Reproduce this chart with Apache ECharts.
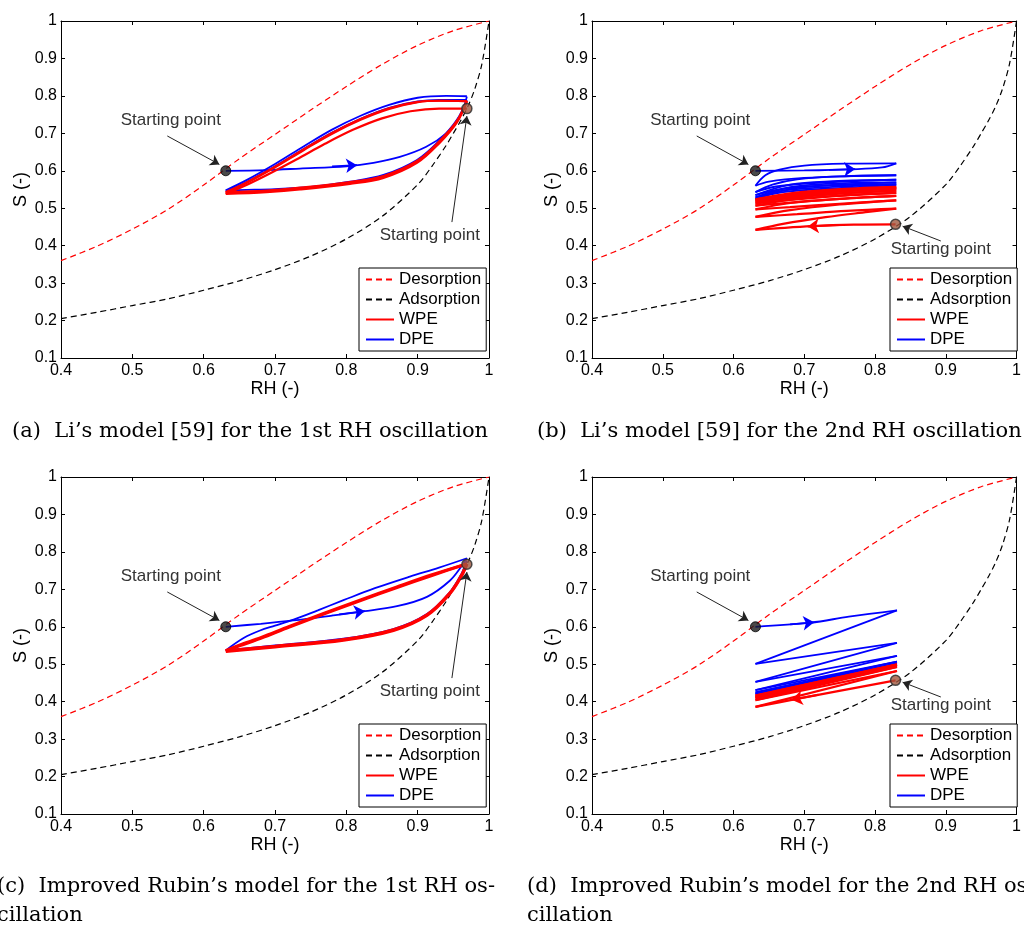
<!DOCTYPE html>
<html><head><meta charset="utf-8"><title>Hysteresis</title>
<script src="https://cdn.jsdelivr.net/npm/echarts@6.0.0/dist/echarts.min.js"></script>
<style>html,body{margin:0;padding:0;background:#fff;overflow:hidden}#chart{width:1024px;height:929px}</style>
</head><body><div id="chart"></div>
<script>
// ---------------- tick labels ----------------
const xTickLabels = ['0.4','0.5','0.6','0.7','0.8','0.9','1'];
const yTickLabels = ['0.1','0.2','0.3','0.4','0.5','0.6','0.7','0.8','0.9','1'];

// ---------------- main isotherms (shared by all panels) ----------------
const desorptionRH = [0.40,0.45,0.50,0.55,0.60,0.65,0.70,0.75,0.80,0.85,0.90,0.95,1.00];
const desorptionS  = [0.360,0.398,0.444,0.497,0.562,0.632,0.697,0.762,0.825,0.884,0.935,0.974,1.000];
const adsorptionRH = [0.40,0.45,0.50,0.55,0.60,0.65,0.70,0.75,0.80,0.85,0.90,0.92,0.94,0.95,0.96,0.97,0.98,0.99,1.00];
const adsorptionS  = [0.205,0.222,0.240,0.258,0.281,0.306,0.336,0.372,0.418,0.478,0.563,0.612,0.668,0.700,0.733,0.770,0.818,0.885,1.000];

// ---------------- (a) Li's model, 1st oscillation ----------------
const aDPE = [
 [[0.631,0.600],[0.688,0.602],[0.735,0.606],[0.800,0.612],[0.838,0.621],[0.875,0.637],[0.912,0.664],[0.940,0.700],[0.959,0.744],[0.969,0.798]],
 [[0.969,0.799],[0.940,0.800],[0.900,0.795],[0.860,0.776],[0.820,0.747],[0.780,0.710],[0.740,0.665],[0.700,0.618],[0.660,0.575],[0.631,0.548]],
 [[0.631,0.548],[0.660,0.549],[0.700,0.551],[0.750,0.557],[0.805,0.571],[0.852,0.589],[0.899,0.629],[0.931,0.682],[0.955,0.736],[0.969,0.789]],
 [[0.969,0.789],[0.930,0.789],[0.900,0.785],[0.860,0.768],[0.820,0.739],[0.780,0.702],[0.740,0.658],[0.700,0.612],[0.660,0.570],[0.631,0.545]]
];
const aWPE = [
 [[0.969,0.766],[0.930,0.766],[0.890,0.759],[0.850,0.740],[0.810,0.710],[0.770,0.672],[0.730,0.630],[0.690,0.590],[0.660,0.562],[0.631,0.538]],
 [[0.631,0.538],[0.688,0.543],[0.735,0.550],[0.805,0.565],[0.852,0.581],[0.899,0.621],[0.931,0.675],[0.955,0.729],[0.969,0.786]],
 [[0.969,0.786],[0.930,0.787],[0.900,0.783],[0.860,0.765],[0.820,0.736],[0.780,0.699],[0.740,0.655],[0.700,0.609],[0.660,0.567],[0.631,0.541]],
 [[0.631,0.541],[0.688,0.545],[0.735,0.553],[0.805,0.568],[0.852,0.584],[0.899,0.624],[0.931,0.678],[0.955,0.731],[0.969,0.786]],
 [[0.969,0.786],[0.930,0.787],[0.900,0.784],[0.860,0.767],[0.820,0.738],[0.780,0.701],[0.740,0.657],[0.700,0.611],[0.660,0.569],[0.631,0.543]],
 [[0.631,0.543],[0.688,0.547],[0.735,0.555],[0.805,0.570],[0.852,0.586],[0.899,0.626],[0.931,0.680],[0.955,0.733],[0.969,0.787]]
];
const aDryStart = [0.631,0.600];
const aWetStart = [0.969,0.766];
const aDpeArrow = [[0.780,0.6115],[0.815,0.615]];

// ---------------- (b) Li's model, 2nd oscillation ----------------
const bDPE = [
 [[0.631,0.600],[0.700,0.601],[0.767,0.604],[0.810,0.609],[0.830,0.620]],
 [[0.830,0.620],[0.760,0.619],[0.700,0.614],[0.665,0.603],[0.645,0.588],[0.631,0.560]],
 [[0.631,0.560],[0.650,0.571],[0.700,0.581],[0.770,0.586],[0.830,0.588]],
 [[0.830,0.588],[0.750,0.585],[0.690,0.577],[0.655,0.563],[0.631,0.543]],
 [[0.631,0.543],[0.660,0.558],[0.720,0.568],[0.830,0.576]],
 [[0.830,0.576],[0.740,0.572],[0.680,0.563],[0.631,0.535]],
 [[0.631,0.535],[0.670,0.552],[0.740,0.562],[0.830,0.569]],
 [[0.830,0.569],[0.740,0.566],[0.680,0.556],[0.631,0.529]],
 [[0.631,0.529],[0.670,0.547],[0.740,0.557],[0.830,0.564]],
 [[0.830,0.564],[0.740,0.561],[0.680,0.551],[0.631,0.525]],
 [[0.631,0.525],[0.670,0.543],[0.740,0.553],[0.830,0.561]]
];
const bWPE = [
 [[0.829,0.457],[0.770,0.456],[0.710,0.452],[0.660,0.446],[0.631,0.442]],
 [[0.631,0.442],[0.670,0.458],[0.730,0.476],[0.790,0.490],[0.830,0.499]],
 [[0.830,0.499],[0.760,0.493],[0.690,0.484],[0.631,0.477]],
 [[0.631,0.477],[0.680,0.495],[0.750,0.510],[0.830,0.521]],
 [[0.830,0.521],[0.750,0.512],[0.680,0.503],[0.631,0.497]],
 [[0.631,0.497],[0.680,0.514],[0.750,0.525],[0.830,0.533]],
 [[0.830,0.533],[0.750,0.525],[0.680,0.515],[0.631,0.507]],
 [[0.631,0.507],[0.680,0.523],[0.750,0.534],[0.830,0.541]],
 [[0.830,0.541],[0.750,0.533],[0.680,0.522],[0.631,0.513]],
 [[0.631,0.513],[0.680,0.529],[0.750,0.540],[0.830,0.547]],
 [[0.830,0.547],[0.750,0.539],[0.680,0.527],[0.631,0.518]],
 [[0.631,0.518],[0.680,0.534],[0.750,0.545],[0.830,0.552]],
 [[0.830,0.552],[0.750,0.544],[0.680,0.532],[0.631,0.521]],
 [[0.631,0.521],[0.680,0.537],[0.750,0.548],[0.830,0.555]],
 [[0.830,0.555],[0.750,0.547],[0.680,0.535],[0.631,0.524]],
 [[0.631,0.524],[0.680,0.540],[0.750,0.551],[0.830,0.557]]
];
const bDryStart = [0.631,0.600];
const bWetStart = [0.829,0.457];
const bDpeArrow = [[0.735,0.6025],[0.772,0.6045]];
const bWpeArrow = [[0.750,0.4555],[0.705,0.4515]];

// ---------------- (c) Improved Rubin's model, 1st oscillation ----------------
const cDPE = [
 [[0.631,0.600],[0.680,0.608],[0.726,0.617],[0.780,0.630],[0.819,0.640],[0.871,0.655],[0.913,0.680],[0.945,0.723],[0.962,0.763],[0.969,0.783]],
 [[0.969,0.783],[0.930,0.758],[0.889,0.734],[0.840,0.703],[0.796,0.671],[0.760,0.644],[0.726,0.619],[0.700,0.603],[0.679,0.590],[0.656,0.570],[0.631,0.537]],
 [[0.631,0.537],[0.700,0.550],[0.796,0.568],[0.866,0.594],[0.913,0.634],[0.945,0.692],[0.961,0.740],[0.969,0.776]]
];
const cWPE = [
 [[0.969,0.768],[0.920,0.737],[0.870,0.704],[0.820,0.670],[0.770,0.635],[0.720,0.599],[0.680,0.569],[0.650,0.549],[0.631,0.535]],
 [[0.631,0.534],[0.700,0.546],[0.796,0.564],[0.866,0.590],[0.913,0.630],[0.945,0.688],[0.961,0.734],[0.969,0.768]],
 [[0.969,0.768],[0.920,0.739],[0.870,0.706],[0.820,0.672],[0.770,0.637],[0.720,0.601],[0.680,0.571],[0.650,0.551],[0.631,0.536]],
 [[0.631,0.536],[0.700,0.548],[0.796,0.566],[0.866,0.592],[0.913,0.632],[0.945,0.690],[0.961,0.736],[0.969,0.768]]
];
const cDryStart = [0.631,0.600];
const cWetStart = [0.969,0.767];
const cDpeArrow = [[0.790,0.633],[0.826,0.642]];

// ---------------- (d) Improved Rubin's model, 2nd oscillation ----------------
const dDPE = [
 [[0.631,0.600],[0.709,0.611],[0.763,0.627],[0.831,0.644]],
 [[0.831,0.644],[0.631,0.501]],
 [[0.631,0.501],[0.831,0.557]],
 [[0.831,0.557],[0.631,0.453]],
 [[0.631,0.453],[0.831,0.522]],
 [[0.831,0.522],[0.631,0.431]],
 [[0.631,0.431],[0.831,0.507]],
 [[0.831,0.507],[0.631,0.425]],
 [[0.631,0.425],[0.831,0.502]],
 [[0.831,0.502],[0.631,0.421]],
 [[0.631,0.421],[0.831,0.499]]
];
const dWPE = [
 [[0.829,0.457],[0.686,0.406],[0.631,0.386]],
 [[0.631,0.386],[0.831,0.482]],
 [[0.831,0.482],[0.631,0.404]],
 [[0.631,0.404],[0.831,0.493]],
 [[0.831,0.493],[0.631,0.409]],
 [[0.631,0.409],[0.831,0.497]],
 [[0.831,0.497],[0.631,0.413]],
 [[0.631,0.413],[0.831,0.499]],
 [[0.831,0.499],[0.631,0.416]],
 [[0.631,0.416],[0.831,0.500]]
];
const dDryStart = [0.631,0.600];
const dWetStart = [0.829,0.457];
const dDpeArrow = [[0.680,0.6065],[0.714,0.612]];
const dWpeArrow = [[0.720,0.4185],[0.682,0.405]];

// ---------------- annotations ----------------
const annotTextHigh = [[0.554,0.736],[0.917,0.428]];
const annotArrowsHigh = [[[0.549,0.693],[0.622,0.617]],[[0.948,0.463],[0.969,0.746]]];
const annotTextLow = [[0.553,0.736],[0.893,0.391]];
const annotArrowsLow = [[[0.548,0.693],[0.621,0.617]],[[0.893,0.4125],[0.839,0.452]]];

const captionsLine1 = [
  '(a)  Li\u2019s model [59] for the 1st RH oscillation',
  '(b)  Li\u2019s model [59] for the 2nd RH oscillation',
  '(c)  Improved Rubin\u2019s model for the 1st RH os-',
  '(d)  Improved Rubin\u2019s model for the 2nd RH os-'
];
const captionsLine2 = ['', '', 'cillation', 'cillation'];
const legendNames = ['Desorption','Adsorption','WPE','DPE'];

// ---------------- layout ----------------
const SANS = '"Liberation Sans", Arial, Helvetica, sans-serif';
const SERIF = '"DejaVu Serif", "Liberation Serif", serif';
const RED = '#ff0000', BLUE = '#0000ff';
const grids = [
  {left:61, top:21, width:428, height:337},
  {left:592, top:21, width:427, height:337},
  {left:61, top:477, width:428, height:337},
  {left:592, top:477, width:427, height:337}
];
const legendPos = [[359,268],[890,268],[359,724],[890,724]];
const captionPos = [[12,432,0],[537,432,0],[-3,887,916],[527,887,916]];
const wpeWidth = [2.2, 2.2, 3.0, 2.2];

const panels = [
  {dpe:aDPE, wpe:aWPE, dry:aDryStart, wet:aWetStart, dArrow:aDpeArrow, wArrow:null, at:annotTextHigh, aa:annotArrowsHigh},
  {dpe:bDPE, wpe:bWPE, dry:bDryStart, wet:bWetStart, dArrow:bDpeArrow, wArrow:bWpeArrow, at:annotTextLow, aa:annotArrowsLow},
  {dpe:cDPE, wpe:cWPE, dry:cDryStart, wet:cWetStart, dArrow:cDpeArrow, wArrow:null, at:annotTextHigh, aa:annotArrowsHigh},
  {dpe:dDPE, wpe:dWPE, dry:dDryStart, wet:dWetStart, dArrow:dDpeArrow, wArrow:dWpeArrow, at:annotTextLow, aa:annotArrowsLow}
];

const xAxes = [], yAxes = [], series = [], legends = [], graphics = [];
const tickStyle = {show:true, inside:true, length:4, lineStyle:{color:'#000', width:1}};
const lineAx = {show:true, onZero:false, lineStyle:{color:'#000', width:1}};

grids.forEach((g, i) => {
  const base = {type:'value', gridIndex:i, min:0.4, max:1.0, interval:0.1, splitLine:{show:false}, axisLine:lineAx, axisTick:tickStyle};
  xAxes.push(Object.assign({}, base, {position:'bottom', name:'RH (-)', nameLocation:'middle', nameGap:21,
    nameTextStyle:{fontFamily:SANS, fontSize:18, color:'#000'},
    axisLabel:{show:true, margin:5, fontFamily:SANS, fontSize:16, color:'#000', showMinLabel:true, showMaxLabel:true,
      formatter:v => xTickLabels[Math.round((v-0.4)/0.1)]}}));
  xAxes.push(Object.assign({}, base, {position:'top', axisLabel:{show:false}}));
  const ybase = {type:'value', gridIndex:i, min:0.1, max:1.0, interval:0.1, splitLine:{show:false}, axisLine:lineAx, axisTick:tickStyle};
  yAxes.push(Object.assign({}, ybase, {position:'left', name:'S (-)', nameLocation:'middle', nameGap:31, nameRotate:90,
    nameTextStyle:{fontFamily:SANS, fontSize:18, color:'#000'},
    axisLabel:{show:true, margin:4, fontFamily:SANS, fontSize:16, color:'#000', showMinLabel:true, showMaxLabel:true,
      formatter:v => yTickLabels[Math.round((v-0.1)/0.1)]}}));
  yAxes.push(Object.assign({}, ybase, {position:'right', axisLabel:{show:false}}));

  const ax = {xAxisIndex:2*i, yAxisIndex:2*i};
  const p = panels[i];
  // isotherms
  series.push(Object.assign({type:'line', name:'Desorption', data:desorptionRH.map((x,k)=>[x,desorptionS[k]]),
    smooth:0.3, symbol:'none', showSymbol:false, z:2, silent:true,
    lineStyle:{color:RED, width:1.2, type:[6,4]}, itemStyle:{color:RED},
    markLine:{silent:true, symbol:['none','arrow'], symbolSize:9, label:{show:false},
      lineStyle:{color:'#222', width:1, type:'solid'},
      data:p.aa.map(a => [{coord:a[0]},{coord:a[1]}])},
    markPoint:{silent:true, symbol:'circle', symbolSize:1, itemStyle:{color:'rgba(0,0,0,0)'},
      label:{show:true, position:'inside', formatter:'Starting point', fontFamily:SANS, fontSize:17, color:'#333'},
      data:p.at.map(c => ({coord:c}))}
  }, ax));
  series.push(Object.assign({type:'line', name:'Adsorption', data:adsorptionRH.map((x,k)=>[x,adsorptionS[k]]),
    smooth:0.3, symbol:'none', showSymbol:false, z:2, silent:true,
    lineStyle:{color:'#000', width:1.2, type:[6,4]}, itemStyle:{color:'#000'}}, ax));
  // DPE strokes
  p.dpe.forEach((s, k) => {
    const ser = Object.assign({type:'line', name:'DPE', data:s, smooth:0.35, symbol:'none', showSymbol:false, z:3, silent:true,
      lineStyle:{color:BLUE, width:1.8}, itemStyle:{color:BLUE}}, ax);
    if (k === 0 && p.dArrow) ser.markLine = {silent:true, symbol:['none','arrow'], symbolSize:11, label:{show:false},
      lineStyle:{color:BLUE, width:1.8, type:'solid'}, data:[[{coord:p.dArrow[0]},{coord:p.dArrow[1]}]]};
    series.push(ser);
  });
  // WPE strokes
  p.wpe.forEach((s, k) => {
    const ser = Object.assign({type:'line', name:'WPE', data:s, smooth:0.35, symbol:'none', showSymbol:false, z:4, silent:true,
      lineStyle:{color:RED, width:wpeWidth[i]}, itemStyle:{color:RED}}, ax);
    if (k === 0 && p.wArrow) ser.markLine = {silent:true, symbol:['none','arrow'], symbolSize:11, label:{show:false},
      lineStyle:{color:RED, width:2, type:'solid'}, data:[[{coord:p.wArrow[0]},{coord:p.wArrow[1]}]]};
    series.push(ser);
  });
  // starting points
  series.push(Object.assign({type:'scatter', name:'start-dry', data:[p.dry], symbol:'circle', symbolSize:10, z:6, silent:true,
    itemStyle:{color:'#1c1c1c', borderColor:'#000', borderWidth:1}}, ax));
  series.push(Object.assign({type:'scatter', name:'start-wet', data:[p.wet], symbol:'circle', symbolSize:10, z:6, silent:true,
    itemStyle:{color:'#a0583f', borderColor:'#2a2a2a', borderWidth:1.5}}, ax));

  legends.push({show:true, left:legendPos[i][0], top:legendPos[i][1], orient:'vertical', data:legendNames,
    itemWidth:28, itemHeight:14, itemGap:3, padding:[3,5,3,6], borderColor:'#000', borderWidth:1,
    backgroundColor:'#fff', selectedMode:false, z:10,
    itemStyle:{color:'rgba(0,0,0,0)', borderWidth:0, opacity:0},
    lineStyle:{width:2},
    textStyle:{fontFamily:SANS, fontSize:17, color:'#000', lineHeight:17}});

  graphics.push({type:'text', x:captionPos[i][0], y:captionPos[i][1],
    style:{text:captionsLine1[i], font:'21px ' + SERIF, fill:'#000', textVerticalAlign:'middle', verticalAlign:'middle'}});
  if (captionsLine2[i]) graphics.push({type:'text', x:captionPos[i][0], y:captionPos[i][2],
    style:{text:captionsLine2[i], font:'21px ' + SERIF, fill:'#000', textVerticalAlign:'middle', verticalAlign:'middle'}});
});

const chart = echarts.init(document.getElementById('chart'), null, {renderer:'canvas'});
chart.setOption({
  animation:false,
  backgroundColor:'#fff',
  grid: grids,
  xAxis: xAxes,
  yAxis: yAxes,
  legend: legends,
  series: series,
  graphic: graphics
});
</script></body></html>
